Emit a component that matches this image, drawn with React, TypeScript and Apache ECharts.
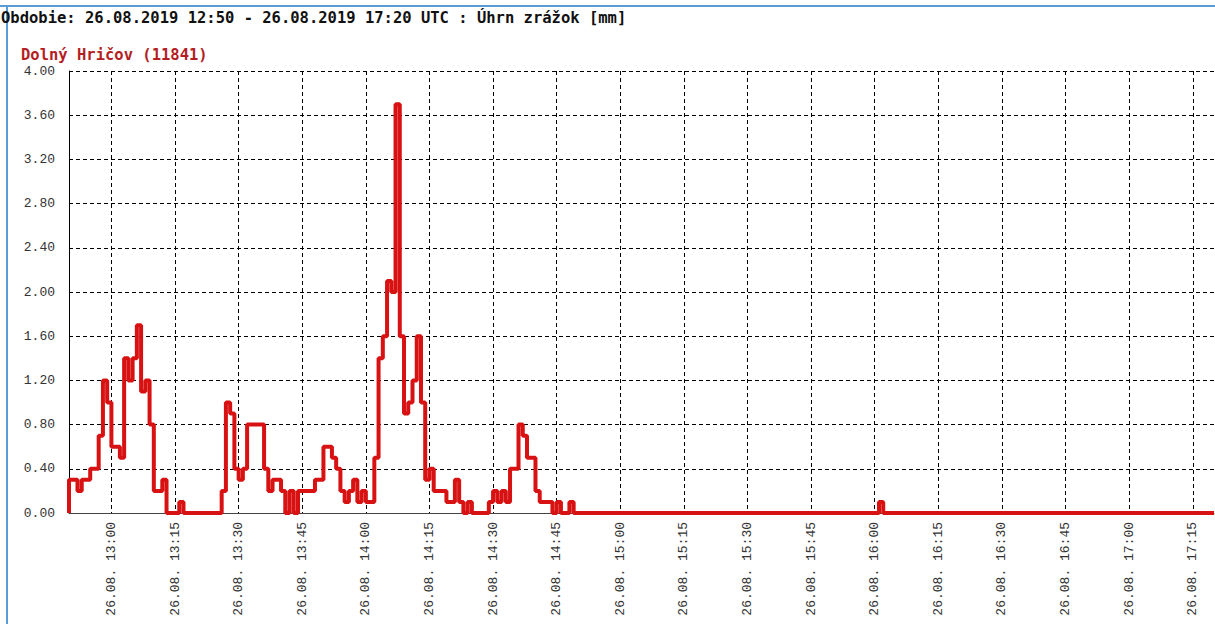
import React, { useEffect, useRef } from "react";
import * as echarts from "echarts";

const titleText = "Obdobie: 26.08.2019 12:50 - 26.08.2019 17:20 UTC : Úhrn zrážok [mm]";
const stationName = "Dolný Hričov (11841)";
const datePrefix = "26.08.";
const axisStart = "12:50";
const axisEnd = "17:20";
const xTickTimes = [
  "13:00", "13:15", "13:30", "13:45", "14:00", "14:15", "14:30", "14:45", "15:00",
  "15:15", "15:30", "15:45", "16:00", "16:15", "16:30", "16:45", "17:00", "17:15",
];
const yMin = 0;
const yMax = 4;
const yStep = 0.4;

// precipitation totals [mm], as step change points (time -> value from that time on)
const changeTimes = [
  "12:50", "12:50", "12:52", "12:53", "12:55", "12:57", "12:58", "12:59", "13:00", "13:02",
  "13:03", "13:04", "13:05", "13:06", "13:07", "13:08", "13:09", "13:10", "13:12", "13:13",
  "13:16", "13:17", "13:26", "13:27", "13:28", "13:29", "13:30", "13:31", "13:32", "13:36",
  "13:37", "13:38", "13:40", "13:41", "13:42", "13:43", "13:44", "13:48", "13:50", "13:52",
  "13:53", "13:54", "13:55", "13:56", "13:57", "13:58", "13:59", "14:00", "14:02", "14:03",
  "14:04", "14:05", "14:06", "14:07", "14:08", "14:09", "14:10", "14:11", "14:12", "14:13",
  "14:14", "14:15", "14:16", "14:19", "14:21", "14:22", "14:23", "14:24", "14:25", "14:29",
  "14:30", "14:31", "14:32", "14:33", "14:34", "14:36", "14:37", "14:38", "14:40", "14:41",
  "14:44", "14:45", "14:46", "14:48", "14:49", "16:01", "16:02", "17:20",
];
const changeValues = [
  0, 0.3, 0.2, 0.3, 0.4, 0.7, 1.2, 1.0, 0.6, 0.5,
  1.4, 1.2, 1.4, 1.7, 1.1, 1.2, 0.8, 0.2, 0.3, 0,
  0.1, 0, 0.2, 1.0, 0.9, 0.4, 0.3, 0.4, 0.8, 0.4,
  0.2, 0.3, 0.2, 0, 0.2, 0, 0.2, 0.3, 0.6, 0.5,
  0.4, 0.2, 0.1, 0.2, 0.3, 0.1, 0.2, 0.1, 0.5, 1.4,
  1.6, 2.1, 2.0, 3.7, 1.6, 0.9, 1.0, 1.2, 1.6, 1.0,
  0.3, 0.4, 0.2, 0.1, 0.3, 0.1, 0, 0.1, 0, 0.1,
  0.2, 0.1, 0.2, 0.1, 0.4, 0.8, 0.7, 0.5, 0.2, 0.1,
  0, 0.1, 0, 0.1, 0, 0.1, 0, 0,
];

const toMin = (t: string) => {
  const [h, m] = t.split(":").map(Number);
  return h * 60 + m;
};
const fmtTime = (v: number) => {
  const h = Math.floor(v / 60);
  const m = Math.round(v - h * 60);
  return `${datePrefix} ${h}:${String(m).padStart(2, "0")}`;
};

export default function App() {
  const ref = useRef<HTMLDivElement>(null);
  useEffect(() => {
    if (!ref.current) return;
    const chart = echarts.init(ref.current, undefined, { renderer: "svg" });
    const xTicks = xTickTimes.map(toMin);
    const data = changeTimes.map((t, i) => [toMin(t), changeValues[i]]);
    const mono = '"Liberation Mono", "DejaVu Sans Mono", monospace';
    chart.setOption({
      animation: false,
      backgroundColor: "#ffffff",
      grid: { left: 69, right: 1, top: 71, bottom: 111, containLabel: false },
      xAxis: {
        type: "value",
        min: toMin(axisStart),
        max: toMin(axisEnd),
        axisLine: { show: true, onZero: false, lineStyle: { color: "#444", width: 1 } },
        axisTick: { show: false, customValues: xTicks },
        axisLabel: {
          customValues: xTicks,
          rotate: 90,
          formatter: (v: number) => fmtTime(v),
          fontFamily: mono,
          fontSize: 13,
          color: "#333",
          margin: 9,
        },
        splitLine: { show: true, lineStyle: { color: "#000", type: [4, 3], width: 1 } },
      },
      yAxis: {
        type: "value",
        min: yMin,
        max: yMax,
        interval: yStep,
        axisLine: { show: true, lineStyle: { color: "#000", width: 1 } },
        axisTick: { show: false },
        axisLabel: {
          formatter: (v: number) => v.toFixed(2),
          fontFamily: mono,
          fontSize: 13,
          color: "#333",
          margin: 14,
        },
        splitLine: { show: true, lineStyle: { color: "#000", type: [4, 3], width: 1 } },
      },
      graphic: [
        {
          type: "line",
          shape: { x1: 0, y1: 6, x2: 1215, y2: 6 },
          style: { stroke: "#5b9bd5", lineWidth: 2 },
        },
        {
          type: "line",
          shape: { x1: 7, y1: 6, x2: 7, y2: 624 },
          style: { stroke: "#5b9bd5", lineWidth: 2 },
        },
        {
          type: "text",
          x: 1,
          y: 18,
          style: {
            text: titleText,
            font: 'bold 15.5px "DejaVu Sans Mono"',
            fill: "#111",
            verticalAlign: "middle",
          },
        },
        {
          type: "text",
          x: 21,
          y: 55,
          style: {
            text: stationName,
            font: 'bold 15.5px "DejaVu Sans Mono"',
            fill: "#b41e23",
            verticalAlign: "middle",
          },
        },
      ],
      series: [
        {
          type: "line",
          step: "end",
          data,
          showSymbol: false,
          symbol: "none",
          clip: false,
          lineStyle: { color: "#d81212", width: 4 },
          z: 5,
        },
      ],
    });
    return () => chart.dispose();
  }, []);
  return (
    <div
      ref={ref}
      style={{ position: "fixed", left: 0, top: 0, width: 1215, height: 624, background: "#fff" }}
    />
  );
}
